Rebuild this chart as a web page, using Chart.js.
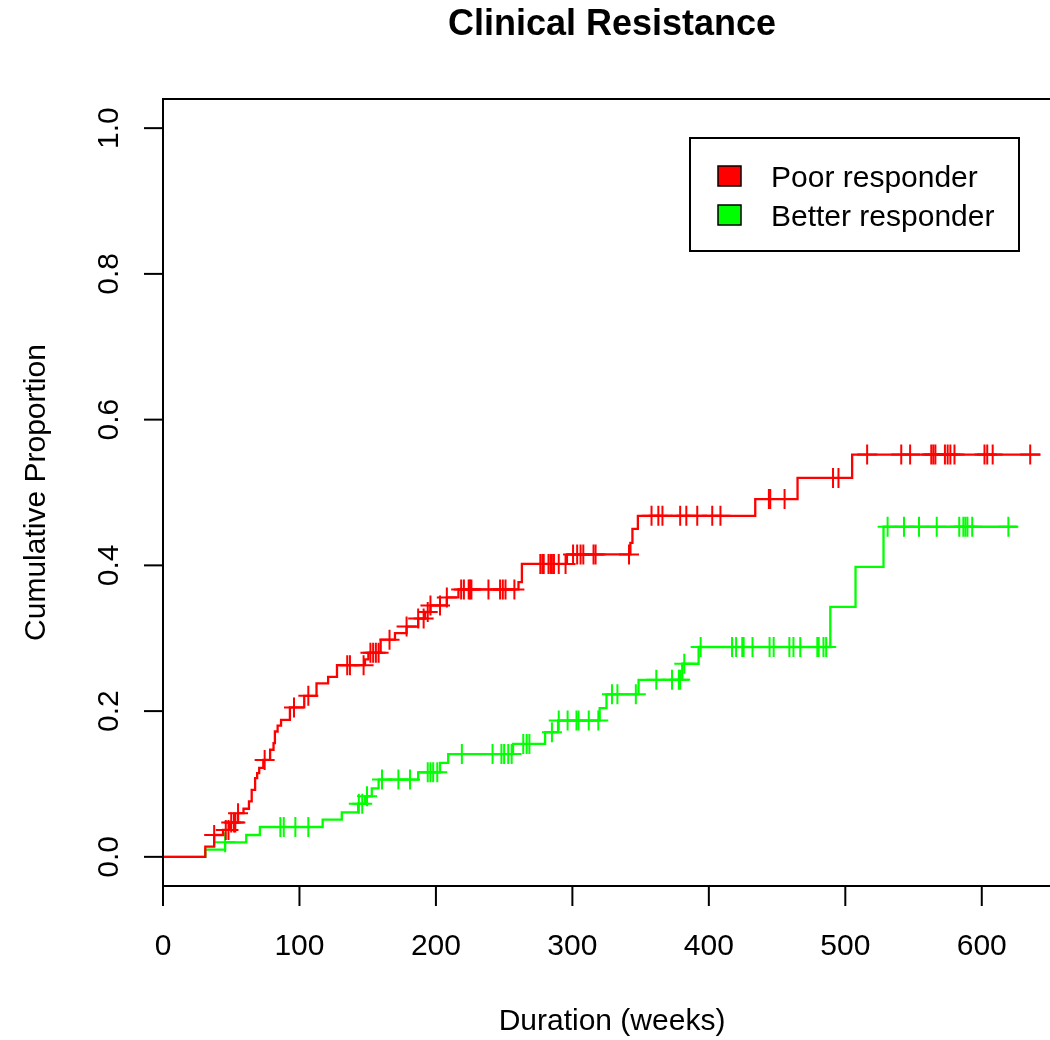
<!DOCTYPE html>
<html>
<head>
<meta charset="utf-8">
<script src="https://cdn.jsdelivr.net/npm/chart.js@4/dist/chart.umd.min.js"></script>
<style>
  html, body { margin: 0; padding: 0; background: #fff; overflow: hidden; }
  canvas { display: block; }
</style>
</head>
<body>
<canvas id="km" width="1050" height="1040"></canvas>
<script>
// cumulative incidence step data (weeks, proportion)
const redTimes = [0, 31, 37.5, 44, 49, 55, 59, 63, 65, 67.5, 69, 70.5, 73.5, 78.5, 81, 82, 84, 86.5, 93, 103.5,
  112.5, 121, 127.5, 148, 150.5, 159.5, 170, 178.5, 187, 192, 196, 208, 216.5, 260.5, 263, 296, 342.5, 344, 348, 434,
  465, 505];
const redCum = [0, 0.014, 0.030, 0.037, 0.047, 0.060, 0.066, 0.076, 0.092, 0.108, 0.115, 0.122, 0.133, 0.147, 0.156, 0.172, 0.180, 0.188, 0.205, 0.221,
  0.238, 0.247, 0.263, 0.271, 0.280, 0.298, 0.307, 0.316, 0.327, 0.336, 0.345, 0.356, 0.367, 0.377, 0.402, 0.415, 0.431, 0.450, 0.468, 0.491,
  0.520, 0.552];
const redEnd = 643;
const redCensor = [37.5, 46, 48, 50, 52, 53, 55, 74.5, 96, 106.5, 135, 137, 147, 152, 154, 156, 158, 166, 178.5, 187,
  191, 194, 196, 203, 208, 218.5, 220.5, 224, 225, 226, 238.5, 247, 249, 251, 257.5, 276.5, 278, 279, 282.5, 284,
  285, 286.5, 290, 295, 300.5, 303.5, 306, 308, 315.5, 317, 341.5, 358, 363, 366, 379, 383.5, 391.5, 402.5, 408.5,
  444, 445, 455.5, 491, 495, 516, 541, 547.5, 563, 564.5, 566, 573, 575, 577, 580, 602, 604, 608, 635.5];

const greenTimes = [0, 31, 45.5, 61, 71, 117, 131, 143, 148, 153, 158, 187, 203, 209, 256.5, 280, 289.5, 320, 325, 348.5,
  380.5, 392.5, 489, 507.5, 528];
const greenCum = [0, 0.010, 0.020, 0.030, 0.041, 0.051, 0.061, 0.073, 0.083, 0.094, 0.106, 0.116, 0.129, 0.141, 0.155, 0.171, 0.187, 0.204, 0.223, 0.243,
  0.265, 0.288, 0.343, 0.398, 0.453];
const greenEnd = 626;
const greenCensor = [45.5, 86, 88.5, 97, 106.5, 143.5, 146, 149.5, 160.5, 172.5, 181, 194, 196, 198, 201, 219, 241.5, 248, 250, 253,
  255.5, 264, 266.5, 268.5, 285, 290, 296.5, 303, 304.5, 312, 319, 329, 333, 346.5, 361.5, 373, 378, 379, 382, 394,
  417, 420, 424.5, 425.5, 432, 444.5, 447.5, 459, 462, 467, 479.5, 480.5, 484, 486, 531, 543, 554, 567, 583.5, 586.5,
  588, 589.5, 593, 619.5];

const xTicks = [0, 100, 200, 300, 400, 500, 600];
const yTicks = [0, 0.2, 0.4, 0.6, 0.8, 1.0];
const yTickLabels = ["0.0", "0.2", "0.4", "0.6", "0.8", "1.0"];
const groupNames = ["Poor responder", "Better responder"];
const groupColors = ["#ff0000", "#00ff00"];

const FONT = "'Liberation Sans', Arial, Helvetica, sans-serif";

// step line: one point per event, then run out to last follow-up
const stepPoints = (times, cum, end) => {
  let pts = times.map((t, i) => ({ x: t, y: cum[i] }));
  pts.push({ x: end, y: cum[cum.length - 1] });
  return pts;
};

// censor marks sit on the curve at their time
const valueAt = (times, cum, t) => {
  let v = cum[0];
  for (let i = 0; i < times.length; i++) {
    if (times[i] <= t) v = cum[i];
  }
  return v;
};
const censorPoints = (times, cum, cens) => cens.map((t) => ({ x: t, y: valueAt(times, cum, t) }));

const rFrame = {
  id: "rFrame",
  afterDraw(chart) {
    const { ctx, chartArea: a, scales } = chart;
    const x = scales.x;
    const y = scales.y;
    ctx.save();
    ctx.strokeStyle = "#000";
    ctx.fillStyle = "#000";
    ctx.lineWidth = 2;

    // box (right side runs past the canvas)
    ctx.beginPath();
    ctx.moveTo(chart.width + 5, a.top);
    ctx.lineTo(a.left, a.top);
    ctx.lineTo(a.left, a.bottom);
    ctx.lineTo(chart.width + 5, a.bottom);
    ctx.stroke();

    // x axis ticks
    ctx.font = "30px " + FONT;
    ctx.textAlign = "center";
    ctx.textBaseline = "alphabetic";
    xTicks.forEach((v) => {
      const px = x.getPixelForValue(v);
      ctx.beginPath();
      ctx.moveTo(px, a.bottom);
      ctx.lineTo(px, a.bottom + 20);
      ctx.stroke();
      ctx.fillText(String(v), px, 955);
    });

    // y axis ticks, labels turned like R does
    yTicks.forEach((v, i) => {
      const py = y.getPixelForValue(v);
      ctx.beginPath();
      ctx.moveTo(a.left, py);
      ctx.lineTo(a.left - 19, py);
      ctx.stroke();
      ctx.save();
      ctx.translate(118, py);
      ctx.rotate(-Math.PI / 2);
      ctx.fillText(yTickLabels[i], 0, 0);
      ctx.restore();
    });

    // titles
    ctx.fillText("Duration (weeks)", 612, 1030);
    ctx.save();
    ctx.translate(45, (a.top + a.bottom) / 2);
    ctx.rotate(-Math.PI / 2);
    ctx.fillText("Cumulative Proportion", 0, 0);
    ctx.restore();

    ctx.font = "bold 36px " + FONT;
    ctx.fillText("Clinical Resistance", 612, 35);

    // legend
    ctx.lineWidth = 2;
    ctx.strokeRect(690, 138, 329, 113);
    ctx.font = "30px " + FONT;
    ctx.textAlign = "left";
    groupNames.forEach((name, i) => {
      const top = 166 + i * 39;
      ctx.fillStyle = groupColors[i];
      ctx.fillRect(718, top, 23, 20);
      ctx.lineWidth = 1.5;
      ctx.strokeRect(718, top, 23, 20);
      ctx.fillStyle = "#000";
      ctx.fillText(name, 771, 187 + i * 38.5);
    });
    ctx.restore();
  },
};

const lineSet = (pts, color) => ({
  data: pts,
  borderColor: color,
  borderWidth: 2.3,
  stepped: true,
  pointRadius: 0,
  fill: false,
});

const censorSet = (pts, color) => ({
  data: pts,
  showLine: false,
  pointStyle: "cross",
  pointRadius: 10,
  pointBorderWidth: 2,
  borderColor: color,
  pointBorderColor: color,
});

new Chart(document.getElementById("km"), {
  type: "line",
  data: {
    datasets: [
      lineSet(stepPoints(redTimes, redCum, redEnd), groupColors[0]),
      censorSet(censorPoints(redTimes, redCum, redCensor), groupColors[0]),
      lineSet(stepPoints(greenTimes, greenCum, greenEnd), groupColors[1]),
      censorSet(censorPoints(greenTimes, greenCum, greenCensor), groupColors[1]),
    ],
  },
  options: {
    responsive: false,
    animation: false,
    devicePixelRatio: 1,
    layout: { autoPadding: false, padding: { left: 163, top: 99, right: 0, bottom: 154 } },
    scales: {
      x: { type: "linear", min: 0, max: 650, display: false },
      y: { type: "linear", min: -0.04, max: 1.04, display: false },
    },
    plugins: {
      legend: { display: false },
      tooltip: { enabled: false },
    },
  },
  plugins: [rFrame],
});
</script>
</body>
</html>
